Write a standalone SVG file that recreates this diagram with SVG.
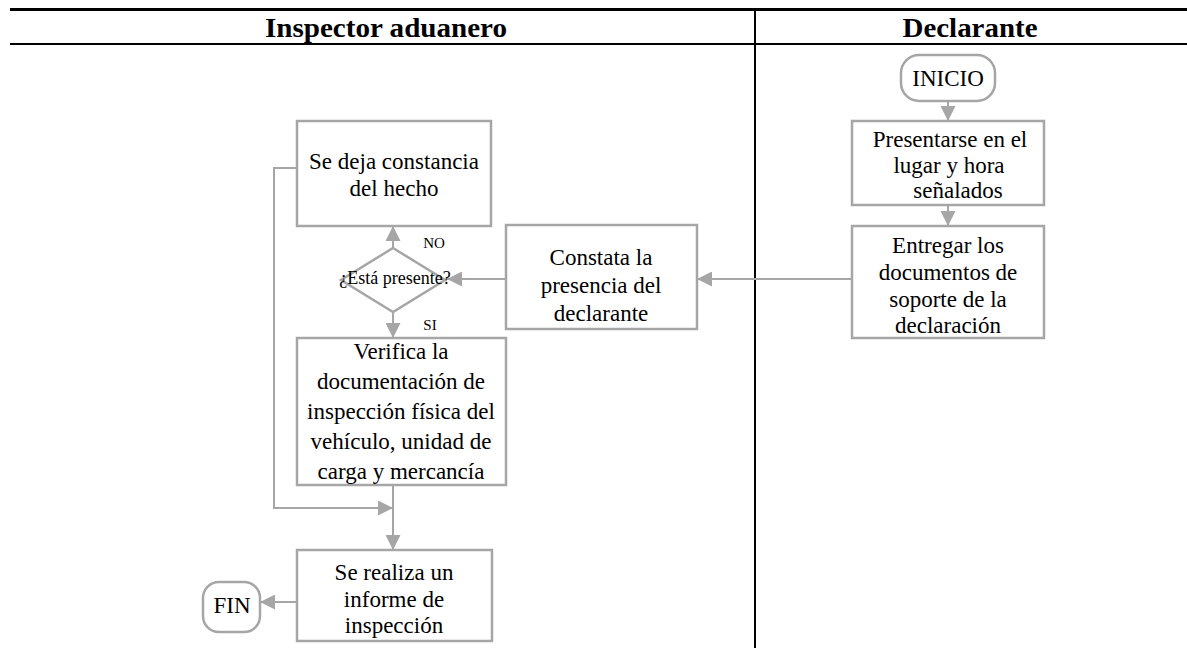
<svg xmlns="http://www.w3.org/2000/svg" width="1187" height="649" viewBox="0 0 1187 649">
<style>
.hdr{font-family:"Liberation Serif","Times New Roman",serif;font-weight:bold;font-size:28px;fill:#000;text-anchor:middle}
.t{font-family:"Liberation Serif","Times New Roman",serif;font-size:23px;fill:#000;text-anchor:middle}
.d{font-family:"Liberation Serif","Times New Roman",serif;font-size:18px;fill:#000;text-anchor:middle}
.lbl{font-family:"Liberation Serif","Times New Roman",serif;font-size:15px;fill:#000;text-anchor:middle}
.box{fill:#fff;stroke:#a6a6a6;stroke-width:2.5}
.con{fill:none;stroke:#a6a6a6;stroke-width:2;marker-end:url(#ah)}
.plain{fill:none;stroke:#a6a6a6;stroke-width:2}
</style>
<defs>
<marker id="ah" markerUnits="userSpaceOnUse" markerWidth="15" markerHeight="15" refX="15" refY="7.5" orient="auto">
<path d="M0,0 L15,7.5 L0,15 Z" fill="#a6a6a6"/>
</marker>
</defs>
<rect width="1187" height="649" fill="#fff"/>
<g id="header">
<line x1="10" y1="9.5" x2="1187" y2="9.5" stroke="#000" stroke-width="3"/>
<line x1="10" y1="44" x2="1187" y2="44" stroke="#000" stroke-width="2"/>
<line x1="755" y1="9" x2="755" y2="648" stroke="#000" stroke-width="2"/>
<text class="hdr" x="386" y="37" textLength="242" lengthAdjust="spacingAndGlyphs">Inspector aduanero</text>
<text class="hdr" x="970" y="37" textLength="135" lengthAdjust="spacingAndGlyphs">Declarante</text>
</g>
<g id="connectors">
<line class="con" x1="948" y1="101" x2="948" y2="121"/>
<line class="con" x1="948" y1="205" x2="948" y2="226"/>
<line class="con" x1="852" y1="279" x2="697" y2="279"/>
<line class="con" x1="506" y1="279" x2="447" y2="279"/>
<line class="con" x1="393" y1="248" x2="393" y2="226"/>
<line class="con" x1="393" y1="312" x2="393" y2="338"/>
<line class="con" x1="393" y1="485" x2="393" y2="550"/>
<polyline class="con" points="297,168 274,168 274,508 393,508"/>
<line class="con" x1="297" y1="602" x2="260" y2="602"/>
</g>
<g id="inicio">
<rect class="box" x="901" y="55" width="94" height="46" rx="18"/>
<text class="t" x="948" y="86">INICIO</text>
</g>
<g id="presentarse">
<rect class="box" x="852" y="121" width="192" height="84"/>
<text class="t" x="950" y="147">Presentarse en el</text>
<text class="t" x="949" y="173">lugar y hora</text>
<text class="t" x="958" y="198">señalados</text>
</g>
<g id="entregar">
<rect class="box" x="852" y="226" width="192" height="112"/>
<text class="t" x="948" y="253">Entregar los</text>
<text class="t" x="948" y="280">documentos de</text>
<text class="t" x="948" y="307">soporte de la</text>
<text class="t" x="948" y="333">declaración</text>
</g>
<g id="constata">
<rect class="box" x="506" y="225" width="191" height="104"/>
<text class="t" x="601" y="265">Constata la</text>
<text class="t" x="601" y="293">presencia del</text>
<text class="t" x="601" y="321">declarante</text>
</g>
<g id="decision">
<polygon class="box" points="393,248 445,280 393,312 341,280"/>
<text class="d" x="395" y="284">¿Está presente?</text>
<text class="lbl" x="434" y="248">NO</text>
<text class="lbl" x="430" y="330">SI</text>
</g>
<g id="sedeja">
<rect class="box" x="297" y="121" width="194" height="105"/>
<text class="t" x="394" y="169">Se deja constancia</text>
<text class="t" x="394" y="196">del hecho</text>
</g>
<g id="verifica">
<rect class="box" x="297" y="338" width="209" height="147"/>
<text class="t" x="401" y="359">Verifica la</text>
<text class="t" x="401" y="389">documentación de</text>
<text class="t" x="401" y="419">inspección física del</text>
<text class="t" x="401" y="449">vehículo, unidad de</text>
<text class="t" x="401" y="479">carga y mercancía</text>
</g>
<g id="informe">
<rect class="box" x="297" y="550" width="195" height="91"/>
<text class="t" x="394" y="580">Se realiza un</text>
<text class="t" x="394" y="607">informe de</text>
<text class="t" x="394" y="633">inspección</text>
</g>
<g id="fin">
<rect class="box" x="203" y="582" width="57" height="50" rx="16"/>
<text class="t" x="232" y="613">FIN</text>
</g>
</svg>
